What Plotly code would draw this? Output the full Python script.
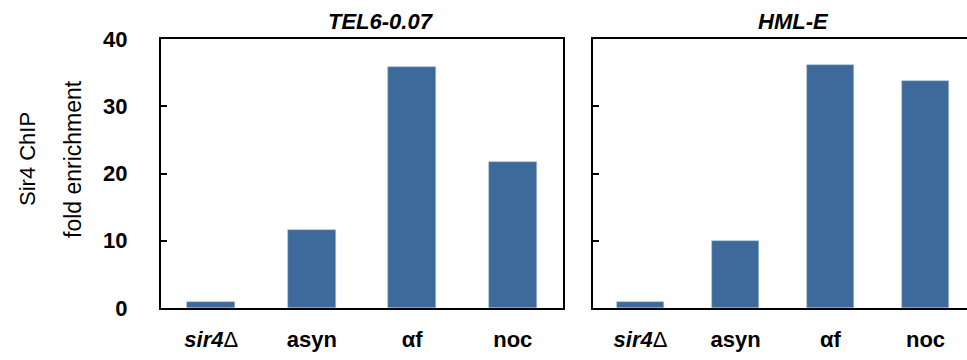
import plotly.graph_objects as go

# Sir4 ChIP fold enrichment at two silenced loci
categories = ["sir4Δ", "asyn", "αf", "noc"]
tick_labels = ["<i>sir4</i><span style='font-weight:normal'>Δ</span>", "asyn", "αf", "noc"]
tel6_values = [0.9, 11.6, 35.8, 21.7]
hml_values = [0.9, 9.9, 36.1, 33.8]
panel_titles = ["TEL6-0.07", "HML-E"]
y_ticks = [0, 10, 20, 30, 40]

W, H = 967, 360
BAR = "#3D6A9B"
FONT = "Liberation Sans, Arial, sans-serif"

fig = go.Figure()
fig.add_trace(go.Bar(x=list(range(len(categories))), y=tel6_values, width=0.48,
                     marker=dict(color=BAR, line=dict(color="#A9BFD8", width=0.6)),
                     xaxis="x", yaxis="y", showlegend=False))
fig.add_trace(go.Bar(x=list(range(len(categories))), y=hml_values, width=0.5,
                     marker=dict(color=BAR, line=dict(color="#A9BFD8", width=0.6)),
                     xaxis="x2", yaxis="y2", showlegend=False))

y_dom = [(H - 308) / H, (H - 39) / H]
axis_line = dict(showline=True, linecolor="black", linewidth=2, showgrid=False,
                 zeroline=False, automargin=False)
tickfont = dict(family=FONT, size=22, color="black", weight="bold")

fig.update_layout(
    width=W, height=H, margin=dict(l=0, r=0, t=0, b=0, autoexpand=False),
    paper_bgcolor="white", plot_bgcolor="white", bargap=0,
    xaxis=dict(domain=[161 / W, 563 / W], range=[-0.5, 3.5], mirror=True,
               tickvals=list(range(len(categories))), ticktext=tick_labels,
               ticks="", tickfont=tickfont, ticklabelstandoff=11, **axis_line),
    yaxis=dict(domain=y_dom, range=[0, 40], mirror=True, tickvals=y_ticks,
               ticks="inside", ticklen=6, tickwidth=2, tickcolor="black",
               tickfont=tickfont, ticklabelstandoff=27, **axis_line),
    xaxis2=dict(domain=[593 / W, 1.0], range=[-0.5, -0.5 + 374 / 95], mirror=True,
                tickvals=list(range(len(categories))), ticktext=tick_labels,
                ticks="", tickfont=tickfont, ticklabelstandoff=11, anchor="y2", **axis_line),
    yaxis2=dict(domain=y_dom, range=[0, 40], tickvals=y_ticks, showticklabels=False,
                ticks="inside", ticklen=6, tickwidth=2, tickcolor="black",
                anchor="x2", **axis_line),
)

# panel titles
for x_px, title in zip([381, 793], panel_titles):
    fig.add_annotation(x=x_px / W, y=1 - 21 / H, xref="paper", yref="paper",
                       text=f"<b><i>{title}</i></b>", showarrow=False,
                       font=dict(family=FONT, size=22, color="black"),
                       xanchor="center", yanchor="middle")

# two-line y-axis title
for x_px, txt, size in [(27, "Sir4 ChIP", 22), (73, "fold enrichment", 23)]:
    fig.add_annotation(x=x_px / W, y=1 - 159 / H, xref="paper", yref="paper",
                       text=txt, textangle=-90, showarrow=False,
                       font=dict(family=FONT, size=size, color="black"),
                       xanchor="center", yanchor="middle")

fig.write_html("out.html")
